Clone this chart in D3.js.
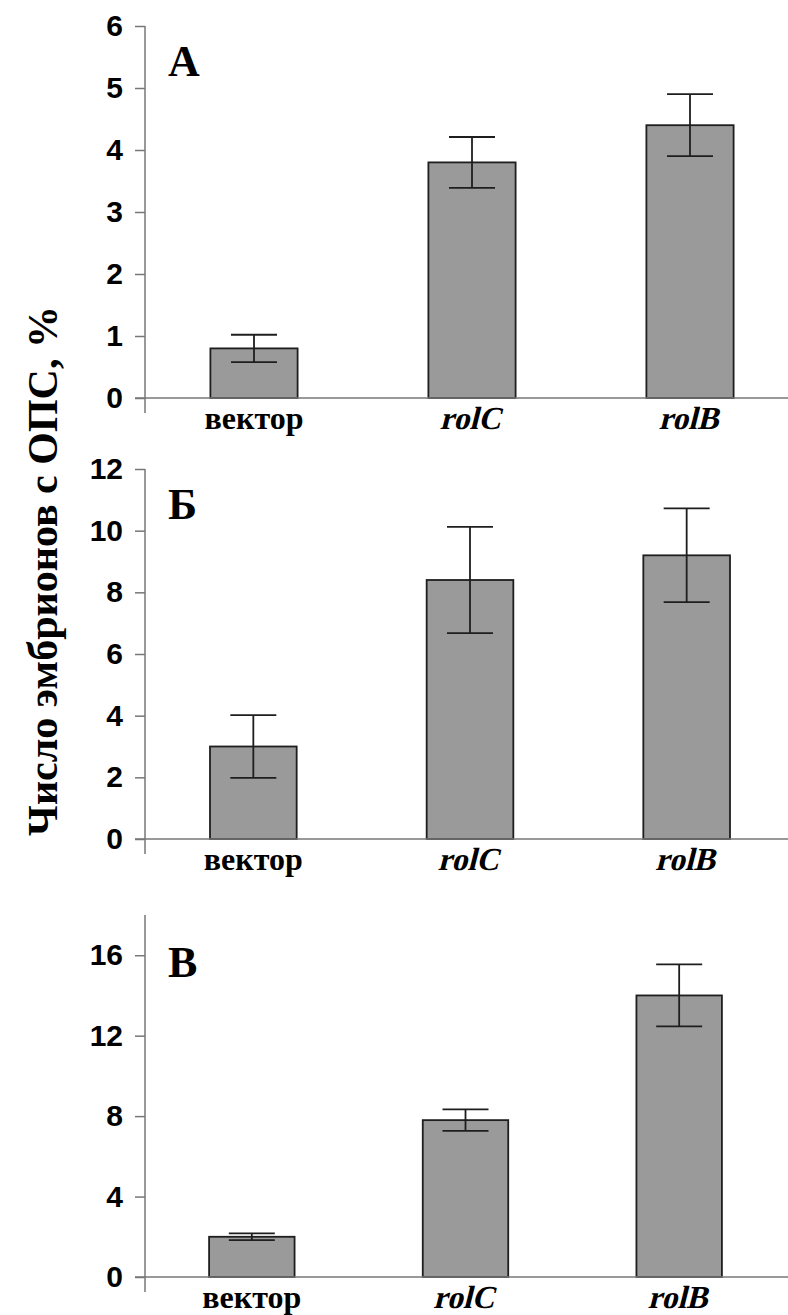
<!DOCTYPE html>
<html>
<head>
<meta charset="utf-8">
<script src="https://cdn.jsdelivr.net/npm/d3@7"></script>
<style>
  body { margin: 0; background: #fff; }
  svg { display: block; }
  .yax text { font-family: Arial, "Liberation Sans", sans-serif; font-weight: bold; fill: #000; }
  .cat text { font-family: "Times New Roman", "Liberation Serif", serif; font-weight: bold; fill: #000; }
</style>
</head>
<body>
<svg id="chart"></svg>
<script>
'use strict';

const categories = ["вектор", "rolC", "rolB"];

// panel A
const meansA = [0.8, 3.8, 4.4];
const errsA = [0.22, 0.41, 0.5];
const ticksA = [0, 1, 2, 3, 4, 5, 6];

// panel Б
const meansB = [3.0, 8.4, 9.2];
const errsB = [1.02, 1.72, 1.52];
const ticksB = [0, 2, 4, 6, 8, 10, 12];

// panel В
const meansC = [2.0, 7.8, 14.0];
const errsC = [0.17, 0.53, 1.54];
const ticksC = [0, 4, 8, 12, 16];

const yTitle = "Число эмбрионов с ОПС, %";

const W = 788, H = 1315;
const axisX = 145;
const serif = "'Times New Roman', 'Liberation Serif', serif";

const svg = d3.select("#chart").attr("width", W).attr("height", H);

const panels = [
  { letter: "А", means: meansA, errs: errsA, ticks: ticksA, max: 6, top: 26, zero: 398, right: 799 },
  { letter: "Б", means: meansB, errs: errsB, ticks: ticksB, max: 12, top: 469, zero: 839, right: 795 },
  { letter: "В", means: meansC, errs: errsC, ticks: ticksC, max: 18, top: 915, zero: 1277, right: 786 }
];

panels.forEach(function(p) {
  let g = svg.append("g");

  let y = d3.scaleLinear().domain([0, p.max]).range([p.zero, p.top]);
  let x = d3.scaleBand().domain(categories).range([axisX, p.right])
    .paddingInner(0.6).paddingOuter(0.3);

  // y axis
  let ya = g.append("g")
    .attr("class", "yax")
    .attr("transform", "translate(" + axisX + ",0)")
    .call(d3.axisLeft(y).tickValues(p.ticks).tickFormat(d3.format("d")).tickSize(10).tickPadding(12));
  ya.select(".domain").remove();
  ya.selectAll(".tick line").attr("stroke", "#777").attr("stroke-width", 1.5);
  ya.selectAll(".tick text")
    .attr("font-family", "Arial, 'Liberation Sans', sans-serif")
    .style("font-size", "30px");

  g.append("line")
    .attr("x1", axisX).attr("x2", axisX)
    .attr("y1", p.top).attr("y2", p.zero + 15)
    .attr("stroke", "#777").attr("stroke-width", 1.5);

  // bars
  g.selectAll("rect.bar")
    .data(p.means)
    .enter().append("rect")
      .attr("class", "bar")
      .attr("x", function(d, i) { return x(categories[i]); })
      .attr("y", function(d) { return y(d); })
      .attr("width", x.bandwidth())
      .attr("height", function(d) { return y(0) - y(d); })
      .style("fill", "#9a9a9a")
      .style("stroke", "#1e1e1e")
      .style("stroke-width", 1.8);

  // zero line
  g.append("line")
    .attr("x1", axisX - 10).attr("x2", W)
    .attr("y1", y(0)).attr("y2", y(0))
    .attr("stroke", "#777").attr("stroke-width", 1.5);

  // error bars
  let cap = 23;
  let eb = g.selectAll("g.err")
    .data(p.means)
    .enter().append("g")
      .attr("class", "err")
      .attr("stroke", "#1e1e1e")
      .attr("stroke-width", 1.8);
  eb.append("line")
    .attr("x1", function(d, i) { return x(categories[i]) + x.bandwidth() / 2; })
    .attr("x2", function(d, i) { return x(categories[i]) + x.bandwidth() / 2; })
    .attr("y1", function(d, i) { return y(d + p.errs[i]); })
    .attr("y2", function(d, i) { return y(d - p.errs[i]); });
  eb.append("line")
    .attr("x1", function(d, i) { return x(categories[i]) + x.bandwidth() / 2 - cap; })
    .attr("x2", function(d, i) { return x(categories[i]) + x.bandwidth() / 2 + cap; })
    .attr("y1", function(d, i) { return y(d + p.errs[i]); })
    .attr("y2", function(d, i) { return y(d + p.errs[i]); });
  eb.append("line")
    .attr("x1", function(d, i) { return x(categories[i]) + x.bandwidth() / 2 - cap; })
    .attr("x2", function(d, i) { return x(categories[i]) + x.bandwidth() / 2 + cap; })
    .attr("y1", function(d, i) { return y(d - p.errs[i]); })
    .attr("y2", function(d, i) { return y(d - p.errs[i]); });

  // category labels (gene names slanted: no serif bold italic face installed)
  let xa = g.append("g")
    .attr("class", "cat")
    .attr("transform", "translate(0," + p.zero + ")")
    .call(d3.axisBottom(x).tickSize(0).tickPadding(8));
  xa.select(".domain").remove();
  xa.attr("font-family", serif);
  xa.selectAll(".tick text")
    .attr("font-family", serif)
    .style("font-size", "32px")
    .attr("transform", function(d) { return d === "вектор" ? null : "translate(6,0) skewX(-14)"; });

  // panel letter
  g.append("text")
    .attr("x", 168).attr("y", p.top + (p.max === 18 ? 62 : 50))
    .style("font-family", serif)
    .style("font-weight", "bold")
    .style("font-size", "44px")
    .text(p.letter);
});

// shared y title
svg.append("text")
  .attr("transform", "translate(57,571) rotate(-90)")
  .attr("text-anchor", "middle")
  .style("font-family", serif)
  .style("font-weight", "bold")
  .style("font-size", "42px")
  .text(yTitle);
</script>
</body>
</html>
